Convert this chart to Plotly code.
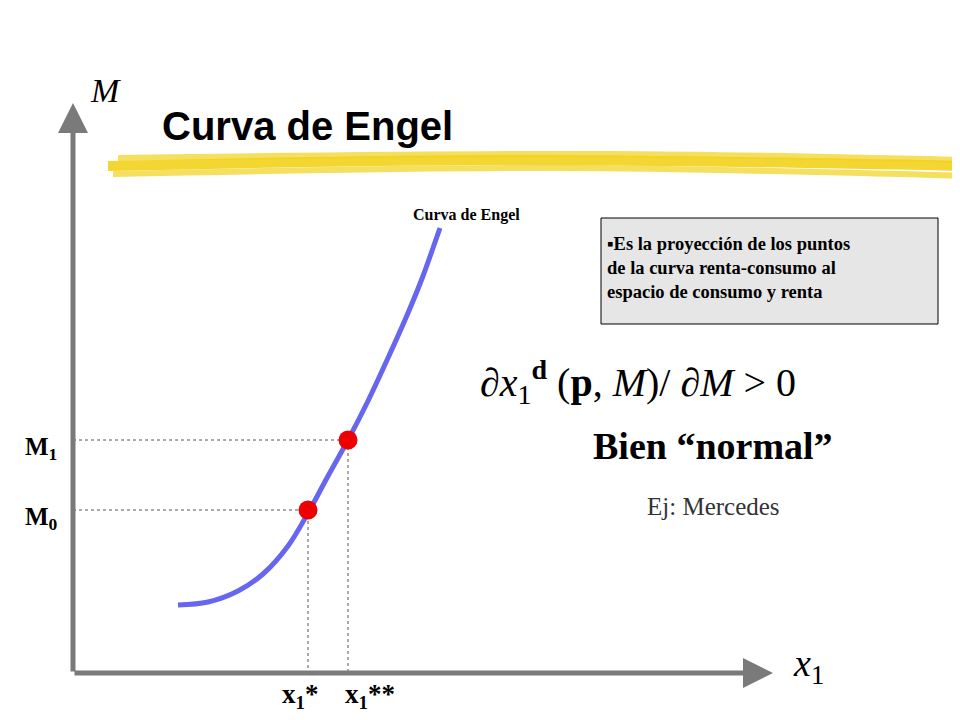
import plotly.graph_objects as go

# positions in slide pixel units (x right, y down)
curve_x = [170, 200, 230, 255, 280, 300, 320, 340, 360, 380, 400, 415, 425, 432]
curve_y = [597, 594, 583, 566, 538, 505, 468, 432, 393, 350, 305, 268, 240, 220]
pts_x = [300, 340]
pts_y = [502, 432]
tick_labels = ["M<sub>0</sub>", "M<sub>1</sub>"]
xtick_labels = ["x<sub>1</sub>*", "x<sub>1</sub>**"]

SERIF = "Liberation Serif"
fig = go.Figure()

# yellow brush stroke under the title
for w, op, xs, ys in [(10, 0.9, [100, 500, 960], [158, 152, 158]),
                      (6, 0.7, [110, 600, 955], [150, 146, 152]),
                      (6, 0.7, [105, 550, 960], [166, 160, 168])]:
    fig.add_trace(go.Scatter(x=xs, y=ys, mode="lines", line_shape="spline",
                             line=dict(color="#f2d21b", width=w), opacity=op,
                             hoverinfo="skip"))

# dotted guide lines
for px_, py_ in zip(pts_x, pts_y):
    fig.add_trace(go.Scatter(x=[65, px_, px_], y=[py_, py_, 665], mode="lines",
                             line=dict(color="#555", width=1, dash="dot")))

fig.add_trace(go.Scatter(x=curve_x, y=curve_y, mode="lines", line_shape="spline",
                         line=dict(color="#6666ee", width=5)))
fig.add_trace(go.Scatter(x=pts_x, y=pts_y, mode="markers",
                         marker=dict(color="#ee0000", size=19)))

# axes with arrows
fig.add_annotation(x=65, y=95, ax=65, ay=665, xref="x", yref="y", axref="x", ayref="y",
                   showarrow=True, arrowhead=2, arrowsize=1.2, arrowwidth=5,
                   arrowcolor="#7a7a7a", text="")
fig.add_annotation(x=765, y=665, ax=65, ay=665, xref="x", yref="y", axref="x", ayref="y",
                   showarrow=True, arrowhead=2, arrowsize=1.2, arrowwidth=5,
                   arrowcolor="#7a7a7a", text="")

# info box
fig.add_shape(type="rect", x0=593, y0=210, x1=930, y1=316, xref="x", yref="y",
              line=dict(color="black", width=1), fillcolor="#e6e6e6", layer="below")


def txt(x, y, t, size, family=SERIF, color="black", xanchor="center", align="center"):
    fig.add_annotation(x=x, y=y, text=t, showarrow=False, xanchor=xanchor, align=align,
                       font=dict(size=size, family=family, color=color))


txt(97, 82, "<i>M</i>", 34)
txt(152, 118, "<b>Curva de Engel</b>", 40, family="Liberation Sans", xanchor="left")
txt(458, 207, "<b>Curva de Engel</b>", 16)
txt(597, 260, "<b>▪Es la proyección de los puntos<br>de la curva renta-consumo al<br>espacio de consumo y renta</b>",
    18.5, xanchor="left", align="left")
txt(630, 374, "∂<i>x</i><sub>1</sub><sup><b>d</b></sup> (<b>p</b>, <i>M</i>)/ ∂<i>M</i> > 0", 40)
txt(705, 438, "<b>Bien “normal”</b>", 38)
txt(705, 498, "Ej: Mercedes", 25, color="#333")
for ty, lab in zip(pts_y, tick_labels):
    txt(33, ty + 8, "<b>" + lab + "</b>", 25)
for tx, lab in zip(pts_x, xtick_labels):
    txt(tx + (-8 if tx == pts_x[0] else 22), 688, "<b>" + lab + "</b>", 27)
txt(800, 658, "<i>x</i><sub>1</sub>", 38)

fig.update_layout(width=960, height=720, margin=dict(l=0, r=0, t=0, b=0),
                  showlegend=False, plot_bgcolor="white", paper_bgcolor="white")
fig.update_xaxes(range=[0, 960], visible=False)
fig.update_yaxes(range=[720, 0], visible=False)

fig.write_html("out.html")
